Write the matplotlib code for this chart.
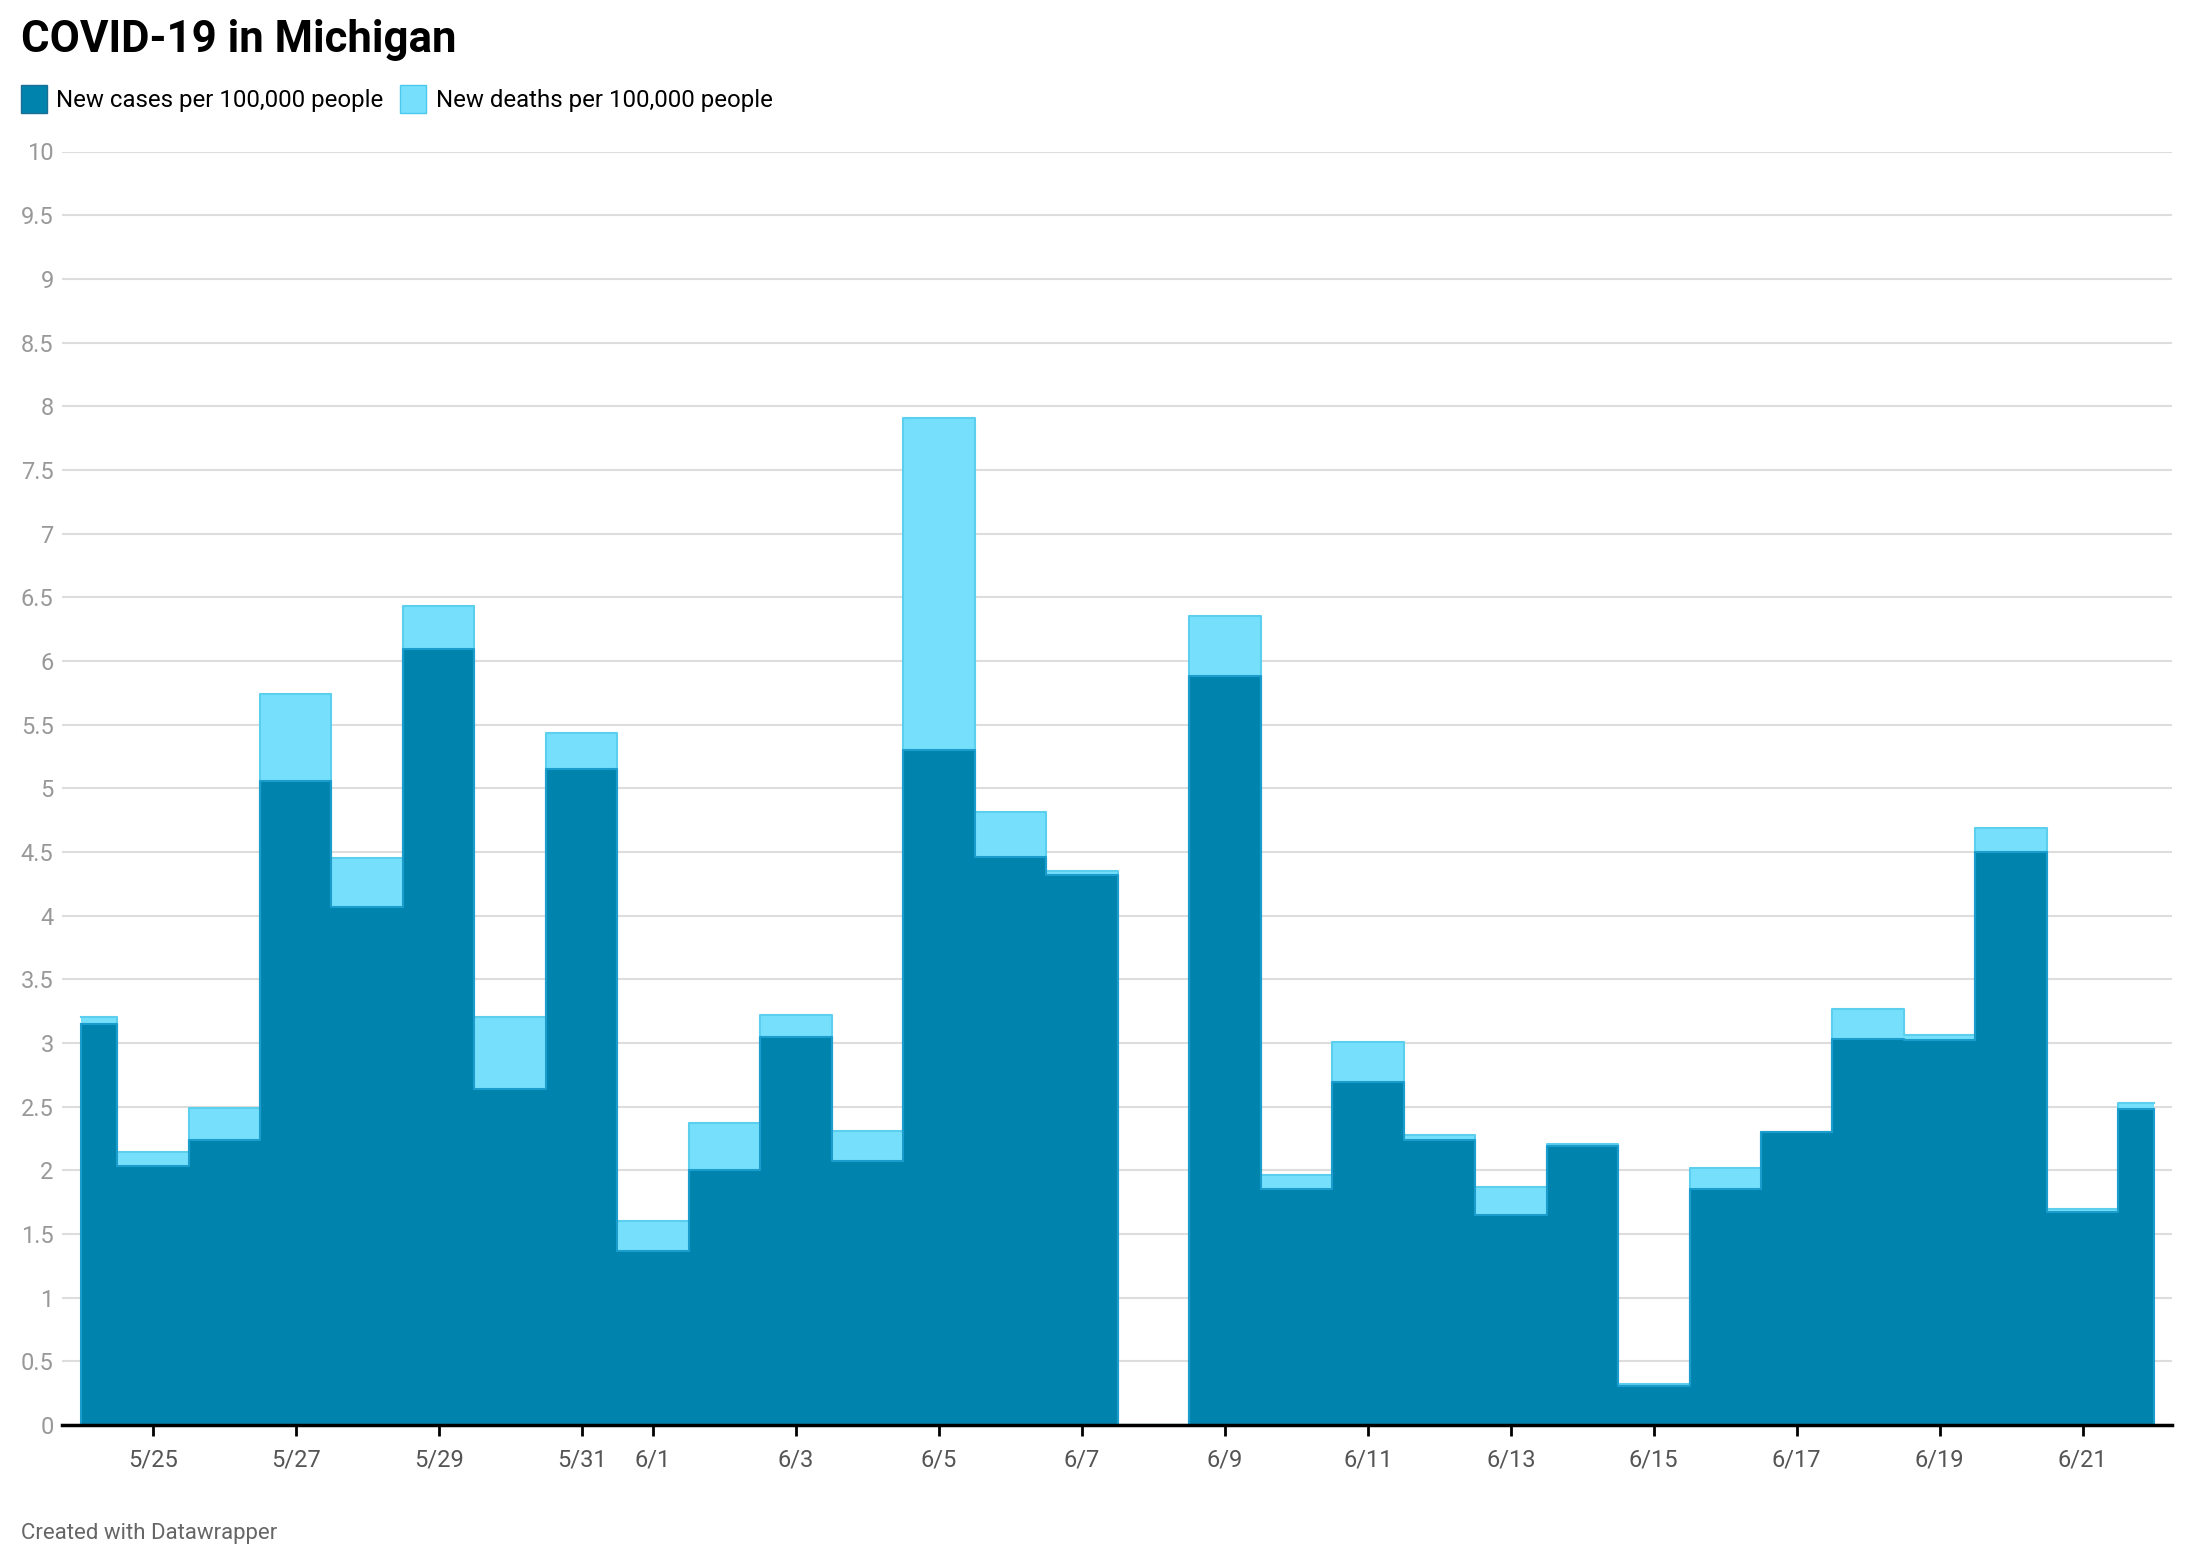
import matplotlib.pyplot as plt
import matplotlib.patches as mpatches
import numpy as np

plt.rcParams['font.family'] = ['Roboto', 'DejaVu Sans']

dates = ['5/24', '5/25', '5/26', '5/27', '5/28', '5/29', '5/30', '5/31',
         '6/1', '6/2', '6/3', '6/4', '6/5', '6/6', '6/7', '6/8', '6/9',
         '6/10', '6/11', '6/12', '6/13', '6/14', '6/15', '6/16', '6/17',
         '6/18', '6/19', '6/20', '6/21', '6/22']
cases = [3.15, 2.03, 2.24, 5.06, 4.07, 6.09, 2.64, 5.15,
         1.37, 2.00, 3.05, 2.07, 5.30, 4.46, 4.32, 0.0, 5.88,
         1.85, 2.69, 2.24, 1.65, 2.19, 0.31, 1.85, 2.30,
         3.03, 3.02, 4.50, 1.67, 2.48]
deaths = [0.05, 0.11, 0.25, 0.68, 0.38, 0.34, 0.56, 0.28,
          0.23, 0.37, 0.17, 0.24, 2.61, 0.35, 0.03, 0.0, 0.47,
          0.11, 0.32, 0.04, 0.22, 0.02, 0.01, 0.17, 0.0,
          0.24, 0.04, 0.19, 0.03, 0.05]
tick_dates = ['5/25', '5/27', '5/29', '5/31', '6/1', '6/3', '6/5', '6/7',
              '6/9', '6/11', '6/13', '6/15', '6/17', '6/19', '6/21']

dark = '#0084ae'
light = '#76e0fc'

x = np.arange(len(dates))
cases = np.array(cases)
total = cases + np.array(deaths)

W, H = 2200, 1568
fig = plt.figure(figsize=(22, 15.68), dpi=100)
ax = fig.add_axes([62 / W, 1 - 1425 / H, (2172 - 62) / W, (1425 - 151.5) / H])

ax.fill_between(x, 0, cases, step='mid', color=dark, lw=0, zorder=3)
ax.fill_between(x, cases, total, step='mid', color=light, lw=0, zorder=3)
ax.step(x, total, where='mid', color='#5ccfef', lw=1.5, zorder=4)
ax.step(x, cases, where='mid', color='#1a9ccc', lw=1.5, zorder=5)
# vertical edges at the two ends
ax.plot([x[0], x[0]], [0, cases[0]], color='#1a9ccc', lw=1.5, zorder=5)
ax.plot([x[-1], x[-1]], [0, cases[-1]], color='#1a9ccc', lw=1.5, zorder=5)

ax.set_xlim(-0.27, x[-1] + 0.25)
ax.set_ylim(0, 10)
yt = np.arange(0, 10.01, 0.5)
ax.set_yticks(yt)
ax.set_yticklabels([f'{v:g}' for v in yt])
ax.grid(axis='y', color='#dddddd', lw=1.5, zorder=0)
ax.tick_params(axis='y', length=0, pad=6, labelsize=17, labelcolor='#999999')

ax.set_xticks([dates.index(d) for d in tick_dates])
ax.set_xticklabels(tick_dates)
ax.tick_params(axis='x', length=8, width=2, color='black', pad=9,
               labelsize=17, labelcolor='#555555')

for s in ['top', 'right', 'left']:
    ax.spines[s].set_visible(False)
ax.spines['bottom'].set_linewidth(2.5)
ax.spines['bottom'].set_zorder(6)

fig.text(21 / W, 1 - 40 / H, 'COVID-19 in Michigan', fontsize=31.5,
         fontweight='bold', va='center', ha='left')

fig.patches.append(mpatches.Rectangle((21 / W, 1 - 113 / H), 26 / W, 28 / H,
                                      transform=fig.transFigure, facecolor=dark,
                                      edgecolor='#1a6f94', lw=1))
fig.text(56 / W, 1 - 100 / H, 'New cases per 100,000 people', fontsize=17.3,
         va='center', ha='left')
fig.patches.append(mpatches.Rectangle((400 / W, 1 - 113 / H), 26 / W, 28 / H,
                                      transform=fig.transFigure, facecolor=light,
                                      edgecolor='#4cc8ef', lw=1))
fig.text(436 / W, 1 - 100 / H, 'New deaths per 100,000 people', fontsize=17.3,
         va='center', ha='left')

fig.text(21 / W, 1 - 1533 / H, 'Created with Datawrapper', fontsize=16,
         color='#666666', va='center', ha='left')

fig.savefig('out.png', dpi=100)
